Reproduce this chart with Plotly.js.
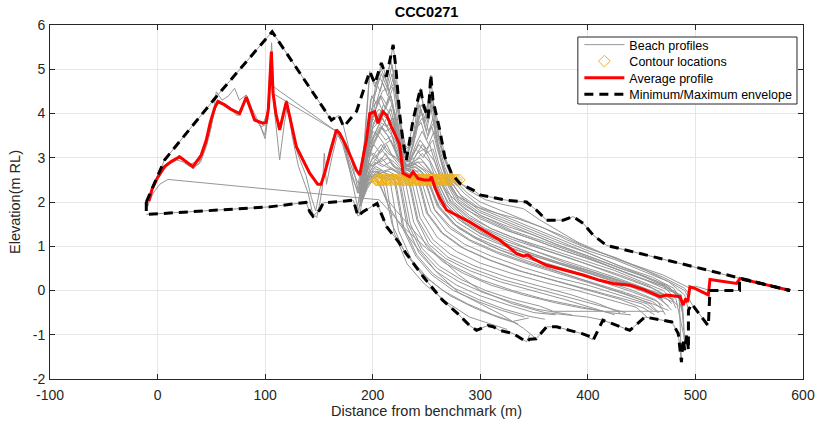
<!DOCTYPE html>
<html><head><meta charset="utf-8">
<script src="https://cdn.plot.ly/plotly-3.0.1.min.js"></script>
<style>html,body{margin:0;padding:0;background:#fff}#chart{width:818px;height:425px}</style>
</head><body><div id="chart"></div>
<script>
// ---------- DATA ----------
const chartTitle = 'CCC0271';
const xTickVals = [-100, 0, 100, 200, 300, 400, 500, 600];
const xTickLabels = ['-100', '0', '100', '200', '300', '400', '500', '600'];
const yTickVals = [-2, -1, 0, 1, 2, 3, 4, 5, 6];
const yTickLabels = ['-2', '-1', '0', '1', '2', '3', '4', '5', '6'];

// Older full-length profiles (from benchmark)
const oldProfiles = [
 [[-10.5,2.0],[6.5,2.95],[54.6,4.38],[106.5,5.85],[161.6,3.85],[168.5,3.96],[173,3.7],[180,3.0],[186,2.3],[192,3.3],[197.2,4.95],[202,4.6],[208,5.0],[213,4.7],[219,5.55],[221.5,5.0],[225,4.0],[228,3.4],[231.3,2.95],[237.5,3.85],[244.4,4.5],[246.8,4.2],[251.5,3.89],[254,4.87],[256,4.3],[262.3,3.63],[267,3.02],[273.2,2.65],[281,2.42],[293.3,2.27],[299.5,2.16],[324.4,2.04],[343,2.0],[352,1.82],[361.6,1.59],[377,1.59],[386.3,1.67],[395.6,1.52],[405,1.25],[417.4,1.02],[454.6,0.8],[500,0.52],[541.4,0.27],[588,0.0]],
 [[-10,1.95],[-5,2.35],[0,2.6],[8,2.85],[15,2.95],[20,3.0],[25,2.95],[32,2.8],[38,2.85],[44,3.2],[50,3.7],[54.6,4.49],[60,4.3],[66,4.4],[71.6,4.57],[76,4.3],[82.5,4.42],[88,4.1],[94,3.8],[99.5,3.51],[102,3.9],[105,5.3],[108,4.6],[166,3.6],[172,3.3],[180,2.6],[187,2.2],[193,3.0],[200,3.9],[206,4.1],[212,3.9],[218,4.2],[223,3.5],[229,2.9],[236,3.0],[243,3.3],[250,3.1],[256,3.2],[262,2.7],[268,2.5],[280,2.0],[300,1.7],[330,1.35],[360,1.1],[400,0.75],[440,0.35],[470,0.1],[485,-0.1]],
 [[-9,1.9],[-3,2.45],[5,2.75],[12,2.88],[20,3.05],[26,2.9],[33,2.75],[40,2.9],[46,3.3],[52,4.0],[57,4.3],[62,4.2],[70,4.05],[76,3.95],[82,4.35],[88,4.0],[95,3.75],[100,3.43],[103,4.0],[105,5.2],[108,4.2],[113.5,2.95],[118,3.8],[121,4.2],[125,3.5],[131,2.8],[140,2.2],[144,1.75],[148,1.65],[151,2.0],[153,2.3],[155,3.1],[157,2.4],[162,3.0],[167,3.5],[172,3.4],[178,2.8],[184,2.1],[188,1.7],[194,2.6],[200,3.4],[207,3.7],[214,3.5],[221,3.2],[228,2.8],[236,2.7],[244,2.7],[250,2.5],[262,1.9],[280,1.4],[310,1.0],[340,0.7],[370,0.45],[400,0.2],[430,-0.05],[460,-0.3],[475,-0.45]],
 [[-10,1.95],[-5,2.3],[0,2.55],[7,2.8],[18,2.95],[24,2.9],[30,2.8],[36,2.85],[42,3.1],[48,3.5],[54,4.2],[60,4.25],[68,4.1],[74,3.95],[80,4.25],[84,4.3],[90,3.9],[96,3.7],[101,3.75],[104,4.5],[106,5.6],[108,4.5],[112,3.7],[116,3.9],[120,4.3],[124,3.9],[130,3.1],[138,2.6],[143,2.1],[147,1.8],[151,2.3],[155,2.6],[160,3.2],[166,3.65],[170,3.55],[176,3.1],[183,2.6],[189,2.3],[195,3.2],[201,3.8],[207,4.0],[213,3.7],[219,3.9],[225,3.3],[231,2.8],[238,2.9],[246,3.1],[253,2.9],[259,2.5],[270,2.0],[290,1.55],[320,1.2],[350,0.9],[380,0.62],[410,0.38],[440,0.15],[465,-0.05],[480,-0.2]],
 [[-10,1.9],[-4,2.2],[2,2.4],[9.6,2.51],[206,2.05],[215,1.8],[230,1.4],[250,0.95],[275,0.55],[300,0.25],[330,0.0],[360,-0.2],[390,-0.35],[420,-0.5],[440,-0.55]],
 [[-10.5,1.72],[104,1.89],[138,1.99],[141.5,1.78],[144.5,1.68],[150.7,1.82],[154,1.98],[182,2.04],[186.3,1.68],[191,1.78],[204,1.97],[208,1.72],[213,1.44],[224,1.1],[231,0.84],[247,0.31],[265,-0.22],[279,-0.52],[290,-0.79],[296.5,-0.9],[307,-0.79],[312,-0.82],[318,-0.9],[330.5,-0.97],[343,-1.16],[346,-1.0]],
 [[-10,2.0],[0,2.55],[10,2.85],[20,3.0],[30,2.85],[40,2.95],[50,3.8],[56,4.3],[65,4.15],[75,4.0],[82,4.35],[90,3.9],[98,3.75],[103,4.1],[106,5.1],[107.5,4.45],[166,3.6],[172,3.4],[180,2.7],[186,2.2],[192,3.0],[198,3.6],[205,3.8],[212,3.6],[219,3.7],[225,3.1],[232,2.8],[240,2.85],[248,2.7],[255,2.5],[265,2.0],[285,1.55],[310,1.2],[340,0.9],[370,0.65],[400,0.42],[430,0.2],[460,-0.05],[478,-0.25]]
];

// Recent profiles (surveyed from the dune)
const recentProfiles = [
 [[187,2.0],[193,3.0],[198,4.3],[203,4.5],[208,5.15],[212.7,4.83],[217,5.2],[222,4.5],[226,3.6],[231,3.0],[237,3.4],[244.4,4.57],[246.8,4.23],[251,3.8],[255,4.4],[258,4.0],[263,3.3],[270,2.8],[278,2.5],[290,2.25],[305,2.05],[320,1.95],[340,1.85],[355,1.6],[370,1.38],[390,1.1],[410,0.88],[440,0.6],[470,0.35],[495,0.05],[500,0.1],[513.5,0.0],[541,0.0]],
 [[188,2.4],[193,3.5],[197.2,4.9],[202,4.68],[207,4.8],[213,4.5],[218,4.9],[223,4.2],[228,3.2],[233,2.9],[238,3.3],[243,4.2],[248,3.8],[253,4.5],[256,4.1],[262,3.4],[268,2.9],[276,2.5],[288,2.2],[300,2.0],[320,1.8],[340,1.6],[360,1.4],[380,1.15],[400,0.95],[425,0.75],[450,0.5],[475,0.2],[490,0.0],[496.5,-0.3],[512,-0.8]],
 [[186,1.9],[193,2.9],[199,4.1],[204,4.3],[209,4.7],[214,4.4],[219,4.8],[224,3.9],[229,3.1],[234,3.0],[240,3.5],[245,4.1],[250,3.6],[255,4.2],[259,3.6],[266,3.0],[274,2.5],[285,2.2],[300,1.9],[320,1.7],[340,1.5],[360,1.3],[380,1.1],[400,0.9],[425,0.7],[450,0.45],[475,0.2],[490,-0.1],[493.5,-0.45]],
 [[189,2.6],[194,3.4],[199,4.4],[204,4.2],[209,4.5],[214,4.6],[218,4.3],[223,3.6],[229,3.0],[235,3.1],[241,3.7],[246,3.9],[251,3.5],[256,3.9],[261,3.3],[267,2.8],[272,2.5],[283,2.1],[300,1.8],[320,1.6],[345,1.35],[370,1.1],[400,0.85],[430,0.55],[460,0.3],[480,0.05],[488,-0.3],[490,-1.1]],
 [[187,2.2],[193,3.1],[198,3.9],[203,4.1],[208,4.4],[213,4.2],[219,4.6],[224,3.7],[229,3.2],[234,2.9],[240,3.3],[246,3.6],[252,3.3],[257,3.6],[263,3.0],[270,2.5],[280,2.05],[300,1.7],[325,1.45],[350,1.25],[375,1.0],[400,0.78],[430,0.5],[455,0.3],[475,0.1],[485,-0.2],[487,-1.62]],
 [[188,1.9],[194,2.8],[199,3.8],[205,4.3],[210,4.0],[215,4.4],[221,4.0],[226,3.4],[232,2.9],[238,3.1],[244,3.4],[250,3.2],[256,3.4],[261,2.9],[267,2.5],[278,2.0],[300,1.62],[325,1.35],[350,1.15],[375,0.92],[400,0.72],[425,0.5],[450,0.28],[470,0.1],[482,-0.2],[489,-1.0],[491,-1.35]],
 [[190,2.5],[195,3.2],[200,4.0],[205,3.9],[210,4.2],[216,4.0],[221,3.6],[227,3.0],[233,2.8],[240,3.2],[247,3.0],[253,3.3],[259,2.8],[265,2.5],[275,2.0],[290,1.7],[310,1.4],[330,1.2],[350,1.05],[375,0.85],[400,0.65],[425,0.45],[450,0.2],[470,0.0],[484,-0.35]],
 [[189,2.1],[194,3.0],[200,3.7],[206,4.0],[211,3.8],[217,4.1],[222,3.5],[228,2.9],[235,2.8],[241,3.1],[248,3.2],[254,2.9],[262,2.5],[272,2.0],[288,1.65],[305,1.4],[330,1.15],[355,0.95],[380,0.75],[405,0.55],[430,0.35],[455,0.12],[476,-0.15],[480,-0.25]],
 [[191,2.3],[196,3.1],[201,3.5],[207,3.8],[213,3.7],[219,3.9],[224,3.3],[230,2.8],[237,2.9],[244,3.0],[251,2.8],[260,2.5],[270,1.95],[285,1.6],[300,1.38],[325,1.1],[350,0.9],[375,0.7],[400,0.5],[425,0.3],[450,0.08],[472,-0.15],[478,-0.3]],
 [[188,2.0],[194,2.9],[200,3.6],[205,3.5],[211,3.8],[217,3.6],[222,3.1],[229,2.8],[236,2.9],[243,2.8],[250,2.7],[257,2.5],[266,2.0],[280,1.6],[300,1.3],[325,1.05],[350,0.82],[375,0.62],[400,0.45],[430,0.22],[455,0.02],[475,-0.35]],
 [[190,2.4],[196,3.3],[202,3.4],[208,3.7],[214,3.5],[220,3.2],[226,2.9],[233,2.75],[240,2.8],[247,2.65],[254,2.5],[263,1.95],[278,1.55],[300,1.22],[325,0.98],[350,0.78],[380,0.55],[410,0.32],[440,0.08],[470,-0.2]],
 [[187,1.8],[193,2.6],[199,3.2],[205,3.5],[211,3.3],[217,3.4],[223,3.0],[230,2.7],[238,2.75],[245,2.6],[251,2.5],[260,1.9],[275,1.5],[295,1.18],[320,0.9],[350,0.68],[380,0.45],[410,0.22],[440,-0.02],[465,-0.25],[472,-0.55]],
 [[189,2.3],[195,3.0],[201,3.3],[207,3.1],[213,3.3],[219,3.0],[226,2.8],[234,2.7],[241,2.6],[248,2.5],[257,1.85],[272,1.45],[290,1.15],[315,0.88],[345,0.62],[375,0.4],[405,0.18],[435,-0.05],[460,-0.25],[468,-0.4]],
 [[191,2.6],[196,3.2],[202,3.0],[208,3.2],[214,3.0],[220,2.9],[228,2.7],[236,2.6],[245,2.5],[254,1.8],[268,1.35],[285,1.05],[310,0.78],[340,0.52],[370,0.3],[400,0.12],[430,-0.1],[455,-0.3],[465,-0.5]],
 [[188,2.1],[194,2.7],[200,3.0],[206,2.9],[212,3.1],[219,2.8],[227,2.7],[235,2.6],[242,2.5],[250,1.75],[264,1.3],[282,0.98],[305,0.72],[335,0.45],[365,0.25],[395,0.05],[425,-0.15],[450,-0.3],[460,-0.45]],
 [[190,2.0],[196,2.6],[202,2.9],[209,2.8],[216,2.9],[224,2.7],[232,2.6],[239,2.5],[247,1.7],[260,1.2],[278,0.88],[300,0.62],[330,0.38],[360,0.18],[390,0.0],[420,-0.2],[445,-0.38],[455,-0.6]],
 [[189,2.5],[195,2.9],[201,2.8],[208,3.0],[215,2.8],[223,2.7],[230,2.6],[236,2.5],[244,1.65],[256,1.15],[272,0.82],[295,0.55],[325,0.3],[355,0.1],[385,-0.1],[410,-0.3],[430,-0.5]],
 [[191,2.2],[197,2.7],[203,2.8],[210,2.7],[218,2.75],[226,2.6],[233,2.5],[241,1.6],[252,1.05],[268,0.72],[290,0.45],[318,0.2],[348,0.0],[378,-0.2],[405,-0.4],[425,-0.55]],
 [[188,1.9],[194,2.4],[200,2.7],[207,2.65],[214,2.7],[222,2.6],[230,2.5],[238,1.55],[250,1.0],[265,0.65],[285,0.38],[310,0.12],[340,-0.1],[370,-0.28],[395,-0.4],[410,-0.45]],
 [[190,2.3],[196,2.6],[203,2.7],[210,2.6],[218,2.6],[227,2.5],[235,1.5],[246,0.95],[262,0.55],[282,0.25],[305,0.0],[330,-0.2],[355,-0.35],[368,-0.47],[470,-0.47]],
 [[189,2.0],[196,2.5],[203,2.6],[211,2.55],[218,2.6],[224,2.5],[232,1.45],[243,0.85],[258,0.45],[278,0.12],[300,-0.12],[325,-0.32],[350,-0.5],[370,-0.55]],
 [[191,2.4],[198,2.6],[206,2.65],[213,2.55],[220,2.5],[228,1.4],[240,0.78],[255,0.35],[275,0.0],[298,-0.25],[320,-0.45],[341,-0.6]],
 [[190,2.1],[197,2.45],[204,2.6],[210,2.55],[216,2.5],[224,1.35],[236,0.7],[252,0.25],[272,-0.12],[295,-0.4],[318,-0.62],[335,-0.75]],
 [[188,1.9],[195,2.3],[201,2.55],[207,2.6],[212,2.5],[220,1.3],[232,0.6],[248,0.15],[268,-0.25],[290,-0.6],[305,-0.72],[325,-0.88]],
 [[188,2.0],[195,2.4],[203,2.5],[208,2.3],[215,1.9],[225,1.5],[240,1.0],[260,0.4],[280,-0.05],[300,-0.3],[320,-0.55],[340,-0.85],[352,-1.09],[362,-0.82],[371,-0.82],[383,-0.9],[394,-0.97],[405,-1.12]],
 [[190,2.3],[197,2.6],[205,2.5],[212,2.1],[222,1.8],[240,1.3],[260,0.8],[280,0.35],[300,0.0],[330,-0.3],[360,-0.5],[400,-0.6],[414,-0.67],[426.6,-0.79],[439,-0.9],[453,-0.6],[470,-0.67],[478,-0.71],[484,-0.97],[487,-1.62]],
 [[192,2.7],[197,3.6],[202,4.2],[207,4.4],[212,4.1],[217,4.4],[222,3.8],[227,3.2],[233,3.1],[239,3.6],[245,3.8],[250,3.4],[255,3.7],[260,3.2],[266,2.7],[271,2.5],[282,2.15],[300,1.85],[320,1.65],[340,1.45],[365,1.2],[390,0.95],[415,0.7],[440,0.45],[465,0.2],[483,-0.05],[488,-0.5]],
 [[190,2.2],[195,3.3],[200,4.2],[204,4.6],[208,4.9],[213,4.6],[218,5.1],[222,4.6],[226,3.8],[231,3.2],[236,3.3],[242,3.9],[247,4.0],[252,3.6],[257,3.8],[262,3.1],[269,2.5],[280,2.1],[298,1.78],[320,1.55],[345,1.3],[370,1.05],[395,0.82],[420,0.6],[448,0.35],[472,0.1],[486,-0.15],[489,-0.7]],
 [[189,2.3],[194,3.2],[199,3.9],[204,3.8],[209,4.1],[215,3.9],[220,3.7],[226,3.2],[232,2.9],[239,3.0],[246,3.3],[252,3.1],[258,2.9],[263,2.5],[273,2.0],[290,1.65],[310,1.4],[335,1.15],[360,0.92],[385,0.72],[410,0.5],[435,0.28],[460,0.05],[478,-0.2],[482,-0.4]],
 [[191,2.5],[197,3.3],[203,3.6],[209,3.9],[215,3.6],[221,3.4],[227,3.0],[233,2.8],[240,2.9],[247,2.9],[253,2.7],[258,2.5],[268,1.95],[283,1.55],[300,1.28],[325,1.0],[350,0.78],[380,0.55],[410,0.33],[440,0.1],[465,-0.12],[478,-0.45]],
 [[188,2.2],[194,2.9],[200,3.3],[206,3.6],[212,3.4],[218,3.5],[224,3.1],[231,2.75],[238,2.8],[245,2.7],[252,2.5],[261,1.9],[276,1.5],[296,1.2],[320,0.95],[350,0.7],[380,0.48],[410,0.25],[440,0.02],[462,-0.2],[470,-0.35]],
 [[190,2.1],[196,2.8],[202,3.1],[208,3.3],[214,3.1],[221,3.0],[228,2.8],[236,2.65],[243,2.6],[249,2.5],[258,1.8],[272,1.4],[292,1.1],[318,0.82],[348,0.57],[378,0.35],[408,0.13],[438,-0.1],[458,-0.3],[466,-0.5]],
 [[189,2.4],[195,3.0],[201,3.1],[207,2.9],[214,3.0],[221,2.8],[229,2.7],[237,2.6],[243,2.5],[251,1.75],[265,1.3],[285,0.95],[310,0.68],[340,0.42],[372,0.2],[402,0.0],[430,-0.2],[452,-0.4],[462,-0.55]],
 [[191,2.3],[198,2.8],[205,2.9],[212,2.8],[220,2.7],[228,2.6],[234,2.5],[242,1.6],[254,1.1],[270,0.75],[292,0.5],[320,0.25],[350,0.05],[380,-0.15],[410,-0.35],[435,-0.5]],
 [[190,2.0],[197,2.5],[204,2.7],[211,2.65],[219,2.6],[225,2.5],[233,1.5],[245,0.9],[260,0.5],[280,0.2],[303,-0.05],[328,-0.25],[352,-0.42],[372,-0.5],[385,-0.55]],
 [[188,2.2],[195,2.6],[202,2.75],[209,2.7],[215,2.6],[221,2.5],[229,1.42],[241,0.8],[256,0.38],[276,0.05],[298,-0.2],[322,-0.42],[345,-0.58],[360,-0.65]],
 [[189,2.3],[196,2.55],[203,2.6],[209,2.5],[218,1.5],[230,0.85],[245,0.4],[265,0.0],[288,-0.3],[312,-0.55],[330,-0.7],[345,-0.62]],
 [[190,2.45],[197,2.8],[204,3.0],[210,3.3],[216,3.1],[222,3.0],[228,2.85],[235,2.8],[242,2.9],[249,2.75],[256,2.6],[262,2.5],[270,2.2],[285,1.85],[305,1.6],[330,1.32],[355,1.1],[380,0.88],[405,0.68],[430,0.45],[455,0.22],[475,0.0],[487,-0.1],[489,-0.9]],
 [[189,2.2],[194,3.3],[199,4.0],[203,4.7],[207,4.5],[211,4.9],[215,4.5],[220,4.7],[224,4.0],[229,3.3],[234,3.2],[240,3.6],[245,4.2],[249,4.0],[253,4.3],[257,3.7],[263,3.0],[268,2.5],[278,2.15],[295,1.9],[315,1.75],[335,1.62],[355,1.45],[375,1.25],[395,1.02],[420,0.78],[445,0.55],[470,0.3],[490,0.05],[495,-0.1]]
];

// Contour (2.5 m RL) crossing locations
const contourX = [203, 204, 205, 206.5, 208, 209, 210, 212, 213, 214, 216, 218, 220, 221, 222, 224, 225, 226, 227.5, 229, 230, 232, 233.5, 234, 235, 236, 238, 239.5, 241, 242, 243, 244, 245, 247, 248, 249, 250, 251, 252, 252.5, 254, 255, 257, 258, 259, 260, 262, 263, 264, 265, 267, 268, 269, 270, 271, 272, 274, 276, 278, 280.5];
const contourY = [2.5, 2.5, 2.5, 2.5, 2.5, 2.5, 2.5, 2.5, 2.5, 2.5, 2.5, 2.5, 2.5, 2.5, 2.5, 2.5, 2.5, 2.5, 2.5, 2.5, 2.5, 2.5, 2.5, 2.5, 2.5, 2.5, 2.5, 2.5, 2.5, 2.5, 2.5, 2.5, 2.5, 2.5, 2.5, 2.5, 2.5, 2.5, 2.5, 2.5, 2.5, 2.5, 2.5, 2.5, 2.5, 2.5, 2.5, 2.5, 2.5, 2.5, 2.5, 2.5, 2.5, 2.5, 2.5, 2.5, 2.5, 2.5, 2.5, 2.5];

// Average profile
const avgX = [-8, -5, 0, 6.5, 13, 20.5, 26, 32.8, 40.6, 45.3, 49, 53, 56, 62, 68, 73.2, 76.3, 82.5, 90.2, 98, 101, 103, 105.8, 107.3, 110, 113.5, 119.7, 124, 129, 135.2, 141.4, 148.9, 152, 155.3, 160, 166.2, 169.3, 174, 180, 184.8, 187.9, 194.1, 197.2, 201.9, 204.9, 209.6, 213, 217.4, 225, 228.2, 234.4, 237.5, 242.2, 248, 253, 254.6, 257.7, 262, 268.6, 281, 290, 302.6, 318, 333.7, 339.8, 344.5, 349, 361.6, 380, 395.6, 411, 423.5, 439, 452, 467, 473, 485.6, 488.7, 491, 492.7, 494.9, 499.5, 512, 513.5, 538.3, 541.4, 588];
const avgY = [2.02, 2.3, 2.55, 2.8, 2.92, 3.02, 2.92, 2.8, 3.06, 3.4, 3.8, 4.12, 4.27, 4.2, 4.1, 4.04, 4.0, 4.37, 3.85, 3.78, 3.8, 4.1, 5.4, 4.46, 4.0, 3.63, 4.27, 3.8, 3.25, 2.95, 2.65, 2.4, 2.4, 2.65, 3.1, 3.63, 3.55, 3.33, 3.0, 2.72, 2.61, 3.4, 4.0, 4.04, 3.78, 4.04, 3.96, 3.7, 3.3, 2.65, 2.57, 2.68, 2.53, 2.5, 2.5, 2.57, 2.34, 2.1, 1.82, 1.67, 1.55, 1.36, 1.14, 0.84, 0.78, 0.8, 0.72, 0.57, 0.46, 0.35, 0.23, 0.16, 0.12, 0.02, -0.14, -0.1, -0.14, -0.33, -0.18, -0.26, 0.08, 0.05, -0.1, 0.25, 0.16, 0.27, 0.0];

// Envelopes
const maxEnvX = [-10.5, 6.5, 54.6, 106.5, 161.6, 168.5, 173, 185, 197.2, 202, 208, 212.7, 219, 221.4, 225, 228, 231.3, 237.5, 244.4, 246.8, 251.5, 254, 256, 262.3, 267, 273.2, 281, 293.3, 299.5, 324.4, 343, 352, 361.6, 377, 386.3, 395.6, 405, 417.4, 454.6, 541.4, 588];
const maxEnvY = [2.0, 2.95, 4.38, 5.85, 3.85, 3.96, 3.7, 4.05, 4.95, 4.68, 5.14, 4.83, 5.55, 5.06, 4.0, 3.4, 2.95, 3.85, 4.57, 4.23, 3.89, 4.87, 4.3, 3.63, 3.02, 2.65, 2.42, 2.27, 2.16, 2.04, 2.0, 1.82, 1.59, 1.59, 1.67, 1.52, 1.25, 1.02, 0.8, 0.27, 0.0];
const minEnvX = [-10.5, -10.5, -9, 104, 138, 141.5, 144.5, 150.7, 154, 182, 186.3, 191, 204, 208, 213, 224, 231, 247, 265, 279, 290, 296.5, 307, 312, 318, 330.5, 343, 346, 352, 361.6, 371, 383, 394, 403, 405, 414, 426.6, 439, 453, 470, 478, 484, 487, 488.5, 490, 492, 493.5, 493.5, 496.5, 512, 513.5, 541, 541, 588];
const minEnvY = [2.0, 1.72, 1.72, 1.89, 1.99, 1.78, 1.68, 1.82, 1.98, 2.04, 1.68, 1.78, 1.97, 1.72, 1.44, 1.1, 0.84, 0.31, -0.22, -0.52, -0.79, -0.9, -0.79, -0.82, -0.9, -0.97, -1.16, -1.1, -1.09, -0.82, -0.82, -0.9, -0.97, -1.05, -1.12, -0.67, -0.79, -0.9, -0.6, -0.67, -0.71, -0.97, -1.62, -1.1, -1.35, -1.0, -1.35, -0.45, -0.3, -0.8, 0.0, 0.0, 0.27, 0.0];

// ---------- BUILD ----------
const FONT = '"Liberation Sans", Arial, sans-serif';
const profX = [], profY = [];
oldProfiles.concat(recentProfiles).forEach(p => {
  p.forEach(pt => { profX.push(pt[0]); profY.push(pt[1]); });
  profX.push(null); profY.push(null);
});

const envDash = '9px,6px';
const traces = [
  {type:'scatter', mode:'lines', x:profX, y:profY, name:'Beach profiles', legend:'legend',
   line:{color:'rgb(150,150,150)', width:1}, connectgaps:false, hoverinfo:'skip'},
  {type:'scatter', mode:'markers', x:contourX, y:contourY, name:'Contour locations', legend:'legend2',
   marker:{symbol:'diamond-open', size:9, color:'#EDB120', line:{width:1, color:'#EDB120'}}},
  {type:'scatter', mode:'lines', x:avgX, y:avgY, name:'Average profile', legend:'legend3',
   line:{color:'#FF0000', width:3}},
  {type:'scatter', mode:'lines', x:minEnvX, y:minEnvY, name:'Minimum/Maximum envelope', legend:'legend4',
   line:{color:'#000000', width:3, dash:envDash}},
  {type:'scatter', mode:'lines', x:maxEnvX, y:maxEnvY, name:'Minimum/Maximum envelope', legend:'legend4',
   showlegend:false, line:{color:'#000000', width:3, dash:envDash}}
];

const legendBase = {x:0.703, xanchor:'left', yanchor:'middle', bgcolor:'rgba(0,0,0,0)', borderwidth:0,
  font:{family:FONT, size:12.5, color:'#000'}, itemwidth:40, tracegroupgap:0};
const axisBase = {showgrid:true, gridcolor:'#e6e6e6', gridwidth:1, zeroline:false, showline:true,
  mirror:'ticks', linecolor:'#262626', linewidth:1, ticks:'inside', ticklen:5, tickcolor:'#262626',
  tickfont:{family:FONT, size:14, color:'#262626'}};

const layout = {
  width:818, height:425,
  margin:{l:50, r:15, t:25, b:46, pad:0},
  paper_bgcolor:'#ffffff', plot_bgcolor:'#ffffff',
  showlegend:true,
  title:{text:'<b>' + chartTitle + '</b>', font:{family:FONT, size:14.5, color:'#000'},
         x:0.5, xref:'paper', xanchor:'center', y:1 - 12/425, yref:'container', yanchor:'middle'},
  xaxis:Object.assign({}, axisBase, {range:[-100,600], tickmode:'array', tickvals:xTickVals, ticktext:xTickLabels,
         ticklabelstandoff:3,
         title:{text:'Distance from benchmark (m)', font:{family:FONT, size:14.5, color:'#262626'}, standoff:4}}),
  yaxis:Object.assign({}, axisBase, {range:[-2,6], tickmode:'array', tickvals:yTickVals, ticktext:yTickLabels,
         ticklabelstandoff:1,
         title:{text:'Elevation(m RL)', font:{family:FONT, size:14.5, color:'#262626'}, standoff:8}}),
  legend:Object.assign({}, legendBase, {y:(379-45)/354}),
  legend2:Object.assign({}, legendBase, {y:(379-61.5)/354}),
  legend3:Object.assign({}, legendBase, {y:(379-78)/354}),
  legend4:Object.assign({}, legendBase, {y:(379-94.5)/354}),
  shapes:[{type:'rect', xref:'paper', yref:'paper', x0:(578-50.5)/752.5, x1:(797-50.5)/752.5,
           y0:(379-104)/354, y1:(379-37)/354, fillcolor:'#ffffff', line:{color:'#262626', width:1}, layer:'above'}]
};

Plotly.newPlot('chart', traces, layout, {displayModeBar:false, staticPlot:true});
</script></body></html>
